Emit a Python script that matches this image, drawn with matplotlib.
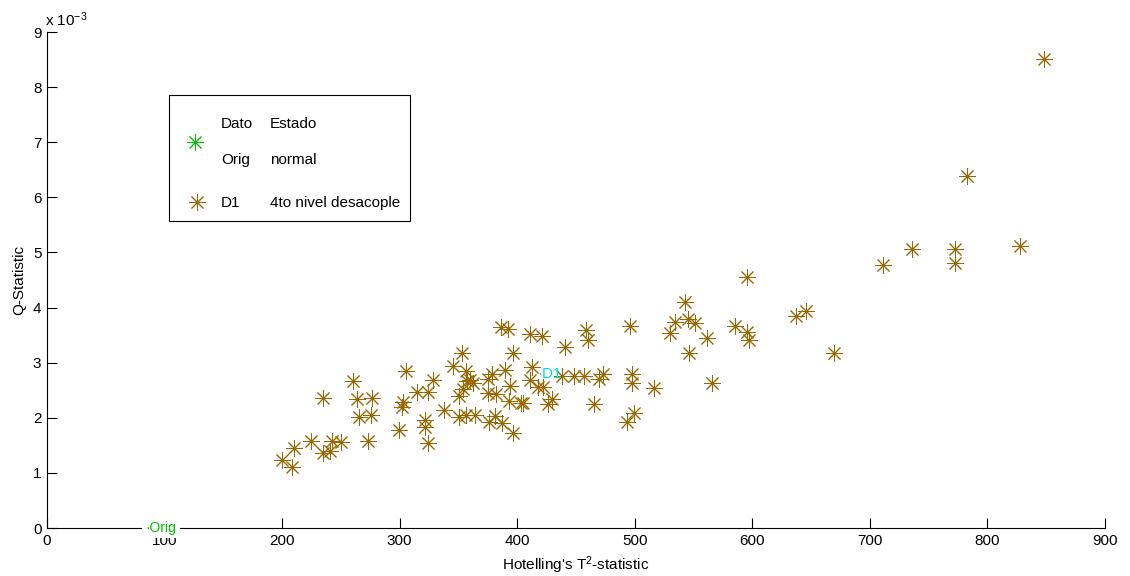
import matplotlib
matplotlib.use("Agg")
import matplotlib.pyplot as plt
from matplotlib.lines import Line2D
from matplotlib.patches import Rectangle
from matplotlib.ticker import FuncFormatter

plt.rcParams['font.family'] = ['Liberation Sans', 'DejaVu Sans']
plt.rcParams['mathtext.fontset'] = 'custom'
plt.rcParams['mathtext.rm'] = 'Liberation Sans'
plt.rcParams['mathtext.it'] = 'Liberation Sans'

# D1 group: Hotelling T^2 and Q statistic
t2_d1 = [848.1, 782.8, 736.1, 772.4, 772.4, 828.0, 711.4, 595.4, 542.7, 545.5,
         551.2, 561.8, 585.2, 595.4, 597.2, 637.1, 645.6, 669.2, 546.1, 533.9,
         530.0, 565.7, 495.9, 458.5, 459.9, 440.6, 410.9, 421.3, 412.8, 410.9,
         418.0, 422.2, 429.3, 425.9, 437.8, 448.3, 457.1, 469.6, 472.7, 497.4,
         497.4, 516.3, 465.3, 499.3, 404.6, 493.4, 386.2, 391.8, 353.3, 396.1,
         345.6, 356.4, 389.6, 328.6, 357.0, 360.0, 362.0, 378.2, 375.4, 354.1,
         350.7, 374.8, 382.0, 393.8, 393.3, 403.2, 324.3, 321.5, 321.5, 338.0,
         350.4, 356.4, 364.0, 376.0, 381.1, 387.3, 396.1, 260.6, 263.4, 276.2,
         265.6, 275.6, 305.4, 315.0, 303.1, 301.7, 299.7, 324.3, 273.3, 249.8,
         242.1, 235.0, 224.3, 210.4, 199.6, 208.1, 235.0, 240.7]
q_d1 = [8.51, 6.39, 5.06, 5.06, 4.80, 5.11, 4.77, 4.55, 4.10, 3.79,
        3.72, 3.44, 3.67, 3.56, 3.42, 3.84, 3.94, 3.18, 3.18, 3.73,
        3.53, 2.63, 3.66, 3.59, 3.41, 3.28, 3.52, 3.48, 2.93, 2.69,
        2.55, 2.55, 2.34, 2.25, 2.76, 2.76, 2.76, 2.70, 2.79, 2.79,
        2.63, 2.54, 2.25, 2.09, 2.26, 1.92, 3.64, 3.61, 3.17, 3.17,
        2.94, 2.85, 2.87, 2.69, 2.66, 2.68, 2.64, 2.79, 2.70, 2.52,
        2.40, 2.45, 2.43, 2.57, 2.30, 2.26, 2.46, 1.96, 1.84, 2.14,
        2.02, 2.05, 2.05, 1.93, 2.04, 1.90, 1.72, 2.67, 2.34, 2.35,
        2.01, 2.05, 2.85, 2.46, 2.29, 2.20, 1.77, 1.54, 1.58, 1.56,
        1.58, 2.35, 1.57, 1.45, 1.23, 1.11, 1.36, 1.40]
q_d1 = [v * 1e-3 for v in q_d1]

# group label positions
label_names = ['Orig', 'D1']
label_t2 = [84.0, 416.8]
label_q = [0.0, 2.79e-3]

xticks = [0, 100, 200, 300, 400, 500, 600, 700, 800, 900]
yticks = [i * 1e-3 for i in range(10)]

brown = '#996600'
green = '#00c000'
star = (8, 2, 0)
fs = 11

W, H = 1130, 576
fig = plt.figure(figsize=(11.3, 5.76), dpi=100)
ax = fig.add_axes([47 / W, 1 - 528 / H, 1058 / W, 496 / H])

ax.plot(t2_d1, q_d1, linestyle='none', marker=star, markersize=12,
        markeredgewidth=0.7, color=brown)

# group labels
ax.text(label_t2[0], label_q[0], '·' + label_names[0], color=green, fontsize=10,
        va='center', ha='left', clip_on=False, zorder=5,
        bbox=dict(facecolor='white', edgecolor='none', pad=2.5))
ax.text(label_t2[1], label_q[1], '·' + label_names[1], color='#00e0e0',
        fontsize=fs, va='center', ha='left', zorder=5)

ax.set_xlim(0, 900)
ax.set_ylim(0, 9e-3)
ax.set_xticks(xticks)
ax.set_yticks(yticks)
ax.yaxis.set_major_formatter(FuncFormatter(lambda v, p: f"{v * 1e3:.0f}"))
ax.tick_params(direction='in', length=7, width=0.8, labelsize=fs, pad=4)
ax.spines['top'].set_visible(False)
ax.spines['right'].set_visible(False)
ax.set_xlabel("Hotelling's T$^2$-statistic", fontsize=fs, labelpad=5)
ax.set_ylabel("Q-Statistic", fontsize=fs, labelpad=5)

fig.text(45 / W, 1 - 20 / H, r"x 10$^{-3}$", fontsize=fs, ha='left', va='center')

# hand-made legend box
fig.add_artist(Rectangle((169 / W, 1 - 221 / H), 241 / W, 126 / H,
                         transform=fig.transFigure, facecolor='white',
                         edgecolor='black', linewidth=0.8))
fig.add_artist(Line2D([195 / W], [1 - 142 / H], transform=fig.transFigure,
                      marker=star, markersize=12, markeredgewidth=0.7,
                      color=green, linestyle='none'))
fig.add_artist(Line2D([197 / W], [1 - 202 / H], transform=fig.transFigure,
                      marker=star, markersize=12, markeredgewidth=0.7,
                      color=brown, linestyle='none'))
rows = [("Dato", "Estado", 124), ("Orig", "normal", 160), ("D1", "4to nivel desacople", 203)]
for a, b, py in rows:
    fig.text(221 / W, 1 - py / H, a, fontsize=fs, ha='left', va='center')
    fig.text(270 / W, 1 - py / H, b, fontsize=fs, ha='left', va='center')

fig.savefig("out.png", dpi=100)
